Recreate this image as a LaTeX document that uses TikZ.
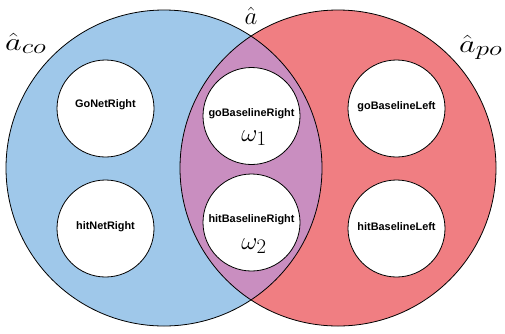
\documentclass[tikz,border=0pt]{standalone}
\usepackage{fontspec}
\setsansfont{Liberation Sans}
\definecolor{cblue}{HTML}{9FC8EA}
\definecolor{cred}{HTML}{F07E82}
\definecolor{cpurple}{HTML}{C98EC0}
\newcommand{\bigsub}[1]{\mbox{\fontsize{21}{24}\selectfont$#1$}}
\tikzset{
  bigcirc/.style={line width=0.8pt},
  inner/.style={circle, draw=black, line width=0.8pt, fill=white, minimum size=97pt, inner sep=0pt},
  lbl/.style={font=\sffamily\bfseries\fontsize{10.9}{12}\selectfont, inner sep=0pt},
  omg/.style={font=\fontsize{29}{32}\selectfont, inner sep=0pt, anchor=base},
  setlbl/.style={font=\fontsize{27}{30}\selectfont, inner sep=0pt}
}
\begin{document}
\begin{tikzpicture}[x=1pt,y=-1pt]
\useasboundingbox (0,0) rectangle (505,333);
% big sets
\coordinate (cl) at (164,168);
\coordinate (cr) at (338,168);
\fill[cblue] (cl) circle[radius=158pt];
\fill[cred] (cr) circle[radius=158pt];
\begin{scope}
  \clip (cl) circle[radius=158pt];
  \fill[cpurple] (cr) circle[radius=158pt];
\end{scope}
\draw[bigcirc] (cl) circle[radius=158pt];
\draw[bigcirc] (cr) circle[radius=158pt];
% inner circles
\node[inner] (gnr) at (105.5,108.5) {};
\node[inner] (hnr) at (105.5,228.5) {};
\node[inner] (gbr) at (251.5,116) {};
\node[inner] (hbr) at (251.5,222.5) {};
\node[inner] (gbl) at (396.5,108.5) {};
\node[inner] (hbl) at (396.5,228.5) {};
% texts
\node[lbl] (tgnr) at (105.5,105) {GoNetRight};
\node[lbl] (thnr) at (105.5,227) {hitNetRight};
\node[lbl] (tgbr) at (251.5,113.3) {goBaselineRight};
\node[lbl] (thbr) at (251.5,219.3) {hitBaselineRight};
\node[lbl] (tgbl) at (396.5,106.7) {goBaselineLeft};
\node[lbl] (thbl) at (396.5,226.7) {hitBaselineLeft};
\node[omg] (w1) at (254,141) {$\omega_1$};
\node[omg] (w2) at (254,249) {$\omega_2$};
% set labels
\node[setlbl, anchor=base] (a) at (251,24) {\fontsize{25}{28}\selectfont$\hat{a}$};
\node[setlbl, anchor=base west] (aco) at (5,50) {\scalebox{1.3}[1]{$\hat{a}_{\bigsub{co}}$}};
\node[setlbl, anchor=base west] (apo) at (459,52) {\scalebox{1.3}[1]{$\hat{a}_{\bigsub{po}}$}};
\end{tikzpicture}
\end{document}
